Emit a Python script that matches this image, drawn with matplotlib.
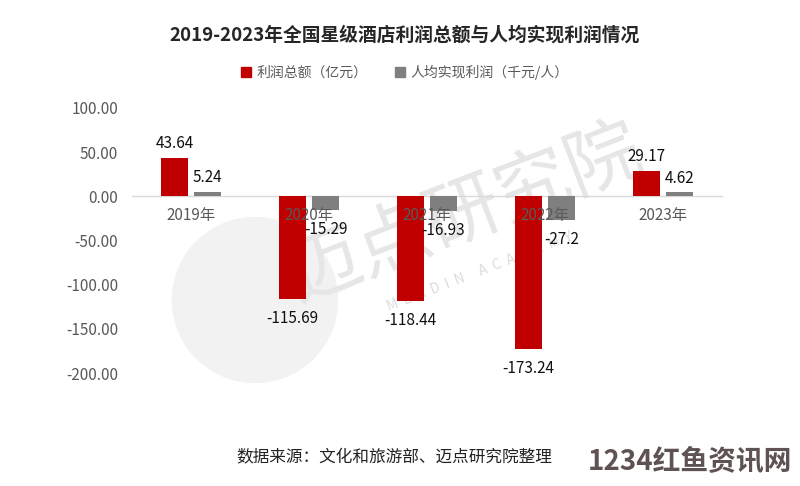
import matplotlib
matplotlib.use("Agg")
import matplotlib.pyplot as plt
from matplotlib.patches import Ellipse, Patch
import numpy as np

plt.rcParams['font.family'] = ['Noto Sans CJK SC', 'DejaVu Sans']

categories = ['2019年', '2020年', '2021年', '2022年', '2023年']
profit_total = [43.64, -115.69, -118.44, -173.24, 29.17]        # 亿元
profit_per_capita = [5.24, -15.29, -16.93, -27.2, 4.62]         # 千元/人
profit_total_labels = ['43.64', '-115.69', '-118.44', '-173.24', '29.17']
profit_per_capita_labels = ['5.24', '-15.29', '-16.93', '-27.2', '4.62']
series_names = ['利润总额（亿元）', '人均实现利润（千元/人）']
yticks = [100, 50, 0, -50, -100, -150, -200]

title = '2019-2023年全国星级酒店利润总额与人均实现利润情况'
source = '数据来源：文化和旅游部、迈点研究院整理'

RED = '#C00000'
GRAY = '#7F7F7F'
TXT = '#595959'

fig = plt.figure(figsize=(8, 4.86), dpi=100)
ax = fig.add_axes([132/800, 1-373/486, 590/800, 265/486])
ax.patch.set_alpha(0)

# watermark (background)
circ = Ellipse((255/800, 1-300/486), 165/800, 165/486, transform=fig.transFigure,
               color='#f2f2f2', zorder=-5)
fig.patches.append(circ)
fig.text(465/800, 1-215/486, '迈点研究院', rotation=21, fontsize=54, color='#e6e6e6',
         ha='center', va='center', zorder=-4)
fig.text(480/800, 1-272/486, 'M  E  A  D  I  N     A  C  A  D  E  M  Y', rotation=21,
         fontsize=10, color='#dcdcdc', ha='center', va='center', zorder=-4)

x = np.arange(len(categories))
w = 0.225
off = 0.14
b1 = ax.bar(x - off, profit_total, w, color=RED, zorder=2)
b2 = ax.bar(x + off, profit_per_capita, w, color=GRAY, zorder=2)

for bars, labels in ((b1, profit_total_labels), (b2, profit_per_capita_labels)):
    for rect, lab in zip(bars, labels):
        v = rect.get_height()
        cx = rect.get_x() + rect.get_width()/2
        if v >= 0:
            ax.annotate(lab, (cx, v), xytext=(0, 4), textcoords='offset points',
                        ha='center', va='bottom', fontsize=11, color='#111111', zorder=5)
        else:
            ax.annotate(lab, (cx, v), xytext=(0, -8), textcoords='offset points',
                        ha='center', va='top', fontsize=11, color='#111111', zorder=5)

ax.set_xlim(-0.5, len(categories) - 0.5)
ax.set_ylim(-200, 100)
ax.set_yticks(yticks)
ax.set_yticklabels([f'{t:.2f}' for t in yticks])
ax.set_xticks(x)
ax.set_xticklabels(categories)
for s in ('top', 'right', 'left'):
    ax.spines[s].set_visible(False)
ax.spines['bottom'].set_position(('data', 0))
ax.spines['bottom'].set_color('#d9d9d9')
ax.spines['bottom'].set_linewidth(1.0)
ax.spines['bottom'].set_zorder(1)
ax.xaxis.set_zorder(4)
ax.tick_params(axis='both', length=0, colors=TXT, labelsize=11)
ax.tick_params(axis='y', pad=10)
ax.tick_params(axis='x', pad=8)

fig.text(405/800, 1-35/486, title, ha='center', va='center', fontsize=13.5,
         fontweight='bold', color='#262626')

handles = [Patch(color=RED), Patch(color=GRAY)]
fig.legend(handles, series_names, loc='center', bbox_to_anchor=(405/800, 1-72/486),
           ncol=2, frameon=False, handlelength=0.7, handleheight=0.7, handletextpad=0.4,
           columnspacing=2.0, fontsize=10, labelcolor=TXT)

fig.text(394/800, 1-458/486, source, ha='center', va='center', fontsize=12, color='#222222')
fig.text(690/800, 1-462/486, '1234红鱼资讯网', ha='center', va='center', fontsize=20,
         fontweight='bold', color='#5f5252')

fig.savefig('out.png', dpi=100)
